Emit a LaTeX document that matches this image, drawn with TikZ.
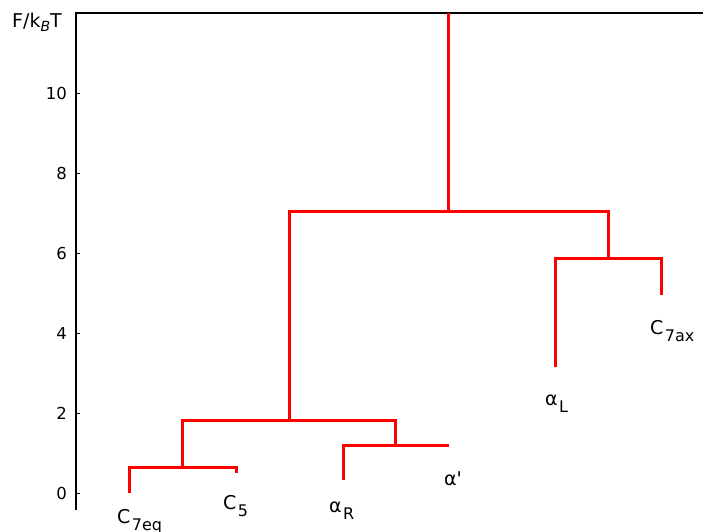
\documentclass[tikz,border=0pt]{standalone}
\usepackage{fontspec}
\setmainfont{DejaVu Sans}

\newcommand{\lowsub}[1]{\hspace{1.5pt}\raisebox{-7pt}{\fontsize{16}{16}\selectfont #1}}

\begin{document}
\begin{tikzpicture}[x=1pt,y=40pt,
	branch/.style={red,line width=3pt},
	axis/.style={black,line width=1.5pt},
	leaf/.style={anchor=base west,inner sep=0pt,font=\fontsize{19}{19}\selectfont},
	ticklabel/.style={anchor=east,inner sep=0pt,font=\fontsize{16.5}{16.5}\selectfont}]
	\useasboundingbox (-76,-0.95) rectangle (627,12.325);

	% axes
	\draw[axis] (0,-0.425) -- (0,12) -- (627,12);
	\foreach \v in {0,2,...,10} {
		\draw[thin] (0,\v) -- (4,\v);
		\node[ticklabel] (t\v) at (-9,\v) {\v};
	}
	\node[leaf] (ylab) at (-64,11.625) {F/k\raisebox{-4pt}{\fontsize{14}{14}\selectfont\itshape B}T};

	% leaves
	\coordinate (C7eq) at (53,0);
	\coordinate (C5) at (160,0.5);
	\coordinate (aR) at (267,0.325);
	\coordinate (ap) at (373,1.2);
	\coordinate (aL) at (479,3.15);
	\coordinate (C7ax) at (585,4.95);

	% merges
	\coordinate (m1) at (106,0.65);
	\coordinate (m2) at (213,1.825);
	\coordinate (m3) at (319,1.2);
	\coordinate (m4) at (372,7.05);
	\coordinate (m5) at (532,5.875);
	\coordinate (top) at (372,12);

	\draw[branch] (C7eq) |- (m1) -| (C5);
	\draw[branch] (aR) |- (m3) -| (ap);
	\draw[branch] (m1) |- (m2) -| (m3);
	\draw[branch] (aL) |- (m5) -| (C7ax);
	\draw[branch] (m2) |- (m4) -| (m5);
	\draw[branch] (m4) -- (top);

	% labels
	\node[leaf] (lC7eq) at (41,-0.75) {C\lowsub{7eq}};
	\node[leaf] (lC5) at (147,-0.4) {C\lowsub{5}};
	\node[leaf] (laR) at (253,-0.475) {α\lowsub{R}};
	\node[leaf] (lap) at (368,0.2) {α\textquotesingle};
	\node[leaf] (laL) at (469,2.2) {α\lowsub{L}};
	\node[leaf] (lC7ax) at (574,3.975) {C\lowsub{7ax}};
\end{tikzpicture}
\end{document}
